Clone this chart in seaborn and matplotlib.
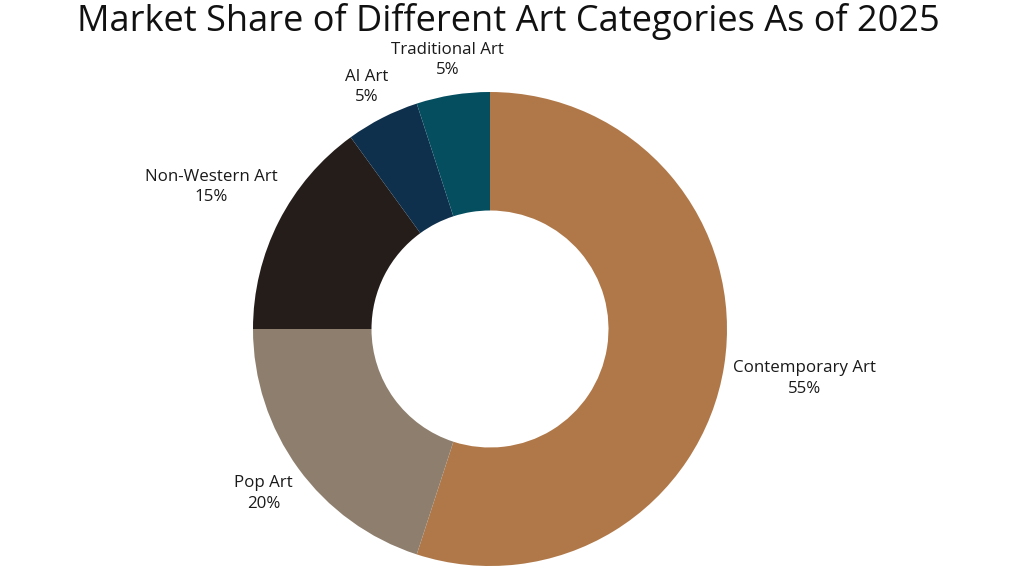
import numpy as np
import matplotlib
matplotlib.use("Agg")
import matplotlib.pyplot as plt
import seaborn as sns

categories = ["Contemporary Art", "Pop Art", "Non-Western Art", "AI Art", "Traditional Art"]
shares = [55, 20, 15, 5, 5]
colors = ["#B07848", "#8E7E6D", "#251D1A", "#0F304D", "#044E60"]
title = "Market Share of Different Art Categories As of 2025"

sns.set_theme(style="white")
plt.rcParams["font.family"] = ["Open Sans", "DejaVu Sans"]

W, H = 1024, 576
fig = plt.figure(figsize=(W / 100, H / 100), dpi=100)
R = 237.0
cx, cy = 490.0, 576 - 329.0
half = 300.0
ax = fig.add_axes([(cx - half) / W, (cy - half) / H, 2 * half / W, 2 * half / H])

wedges, _ = ax.pie(shares, colors=colors, startangle=90, counterclock=False,
                   radius=1.0, wedgeprops=dict(width=0.5, linewidth=0))
lim = half / R
ax.set_xlim(-lim, lim)
ax.set_ylim(-lim, lim)
ax.set_aspect("equal")
ax.axis("off")

fig.canvas.draw()
renderer = fig.canvas.get_renderer()
for w, cat, val in zip(wedges, categories, shares):
    theta = np.deg2rad((w.theta1 + w.theta2) / 2)
    t = ax.text(0, 0, f"{cat}\n{val}%", ha="center", va="center",
                fontsize=12.2, color="#1a1a1a", linespacing=1.4)
    bb = t.get_window_extent(renderer)
    hw = bb.width / 2 / R
    hh = bb.height / 2 / R
    d = 1.035 + abs(hw * np.cos(theta)) + abs(hh * np.sin(theta))
    t.set_position((d * np.cos(theta), d * np.sin(theta)))

fig.text(0.496, 1 - 22 / H, title, ha="center", va="center", fontsize=26, color="#111111")
fig.savefig("out.png", dpi=100, facecolor="white")
